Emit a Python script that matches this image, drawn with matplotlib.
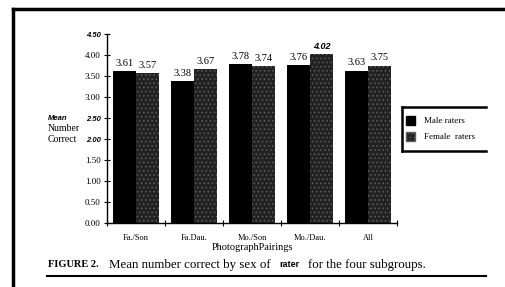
import numpy as np
import matplotlib
matplotlib.use("Agg")
import matplotlib.pyplot as plt
from matplotlib.lines import Line2D
from matplotlib.patches import Patch

plt.rcParams["font.family"] = ["Liberation Serif", "DejaVu Serif"]
plt.rcParams["hatch.linewidth"] = 0.6

# datos
grupos = ["Fa./Son", "Fa.Dau.", "Mo./Son", "Mo./Dau.", "All"]
hombres = [3.61, 3.38, 3.78, 3.76, 3.63]
mujeres = [3.57, 3.67, 3.74, 4.02, 3.75]
etiquetas_h = ["3.61", "3.38", "3.78", "3.76", "3.63"]
etiquetas_m = ["3.57", "3.67", "3.74", "4.02", "3.75"]
yticks = [0, 0.5, 1.0, 1.5, 2.0, 2.5, 3.0, 3.5, 4.0, 4.5]
ytick_labels = ["0.00", "0.50", "1.00", "1.50", "2.00", "2.50", "3.00", "3.50", "4.00", "4.50"]

gris = "#222222"
punto = "#5e5e5e"

fig = plt.figure(figsize=(5.05, 2.87), dpi=100)
ax = fig.add_axes([0.2119, 0.223, 0.5743, 0.6585])

x = np.arange(len(grupos))
ancho = 0.4
ax.bar(x - ancho / 2, hombres, ancho, color="black", linewidth=0)
ax.bar(x + ancho / 2, mujeres, ancho, color=gris, edgecolor=punto,
       hatch="....", linewidth=0)

# etiquetas de valor con fondo blanco
for i in range(len(grupos)):
    ax.text(x[i] - ancho / 2, hombres[i] + 0.08, etiquetas_h[i], ha="center",
            va="bottom", fontsize=7.5,
            bbox=dict(facecolor="white", edgecolor="none", pad=0.5))
    negrita = etiquetas_m[i] == "4.02"
    ax.text(x[i] + ancho / 2, mujeres[i] + 0.08, etiquetas_m[i], ha="center",
            va="bottom", fontsize=7.5 if not negrita else 6.5,
            fontweight="bold" if negrita else "normal",
            fontstyle="italic" if negrita else "normal",
            family=["Liberation Sans"] if negrita else None,
            bbox=dict(facecolor="white", edgecolor="none", pad=0.5))

ax.set_xlim(-0.5, len(grupos) - 0.5)
ax.set_ylim(0, 4.5)
ax.set_yticks(yticks)
ax.set_yticklabels(ytick_labels, fontsize=6.5)
for t in ax.get_yticklabels():
    if t.get_text() in ("4.50", "2.50", "2.00"):
        t.set_fontweight("bold")
        t.set_fontstyle("italic")
        t.set_family("Liberation Sans")
        t.set_fontsize(5.5)
ax.set_xticks(np.arange(len(grupos) + 1) - 0.5)
ax.set_xticklabels([])
ax.set_xticks(x, minor=True)
ax.set_xticklabels(grupos, minor=True, fontsize=6)
ax.tick_params(axis="x", which="minor", length=0, pad=8)
ax.tick_params(axis="both", which="major", direction="inout", length=5, width=0.8)
ax.tick_params(axis="y", pad=2)
for s in ["top", "right"]:
    ax.spines[s].set_visible(False)
ax.spines["left"].set_linewidth(1)
ax.spines["bottom"].set_linewidth(1)

ax.set_xlabel("PhotographPairings", fontsize=7.5, labelpad=1)

# titulo del eje y
fig.text(0.095, 0.588, "Mean", fontsize=5.5, fontweight="bold", fontstyle="italic",
         family=["Liberation Sans"], va="center")
fig.text(0.095, 0.553, "Number", fontsize=7, va="center")
fig.text(0.095, 0.515, "Correct", fontsize=7, va="center")

# leyenda
manijas = [Patch(facecolor="black", edgecolor="black"),
           Patch(facecolor=gris, edgecolor=punto, hatch="....")]
fig.legend(manijas, ["Male raters", "Female  raters"], loc="upper left",
           bbox_to_anchor=(0.787, 0.625), frameon=False, fontsize=6.5,
           handlelength=1.1, handleheight=1.2, handletextpad=0.9, labelspacing=0.7)
fig.add_artist(Line2D([0.796, 0.796], [0.627, 0.474], color="black", lw=1.8))
fig.add_artist(Line2D([0.796, 0.962], [0.627, 0.627], color="black", lw=1.8))
fig.add_artist(Line2D([0.796, 0.962], [0.474, 0.474], color="black", lw=1.8))

# pie de figura
fig.text(0.095, 0.077, "FIGURE 2.", fontsize=7.5, fontweight="bold", va="center")
fig.text(0.216, 0.077, "Mean number correct by sex of", fontsize=9.3, va="center")
fig.text(0.553, 0.077, "rater", fontsize=6.5, fontweight="bold",
         family=["Liberation Sans"], va="center")
fig.text(0.61, 0.077, "for the four subgroups.", fontsize=9.3, va="center")

# bordes de la pagina escaneada
fig.add_artist(Line2D([0.093, 0.962], [0.038, 0.038], color="black", lw=1.5))
fig.add_artist(Line2D([0.026, 1.0], [0.969, 0.969], color="black", lw=2.5))
fig.add_artist(Line2D([0.026, 0.026], [0.969, 0.0], color="black", lw=2.5))

fig.savefig("out.png", dpi=100)
